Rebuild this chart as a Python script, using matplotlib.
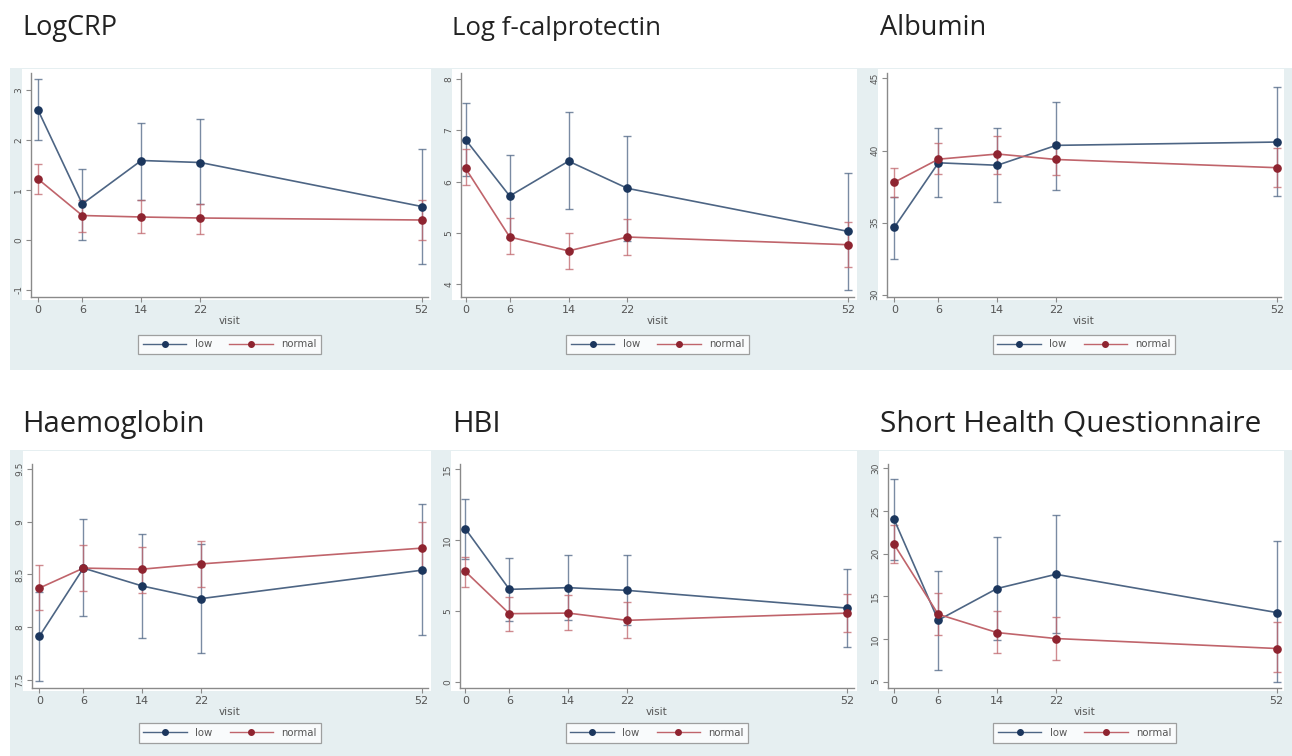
import matplotlib
matplotlib.use("Agg")
import matplotlib.pyplot as plt
from matplotlib.patches import Rectangle
from matplotlib.lines import Line2D

# ---------------- data ----------------
visits = [0, 6, 14, 22, 52]
visit_labels = ["0", "6", "14", "22", "52"]
series_names = ["low", "normal"]

titles = ["LogCRP", "Log f-calprotectin", "Albumin",
          "Haemoglobin", "HBI", "Short Health Questionnaire"]

crp_low = [2.60, 0.72, 1.59, 1.55, 0.67]
crp_low_lo = [2.00, 0.00, 0.80, 0.72, -0.47]
crp_low_hi = [3.22, 1.42, 2.35, 2.42, 1.82]
crp_norm = [1.22, 0.49, 0.46, 0.44, 0.40]
crp_norm_lo = [0.92, 0.17, 0.15, 0.12, 0.00]
crp_norm_hi = [1.52, 0.80, 0.80, 0.72, 0.80]
crp_ticks = [-1, 0, 1, 2, 3]

fcal_low = [6.82, 5.72, 6.40, 5.87, 5.03]
fcal_low_lo = [6.11, 4.91, 5.46, 4.84, 3.89]
fcal_low_hi = [7.54, 6.53, 7.36, 6.90, 6.16]
fcal_norm = [6.26, 4.92, 4.65, 4.92, 4.77]
fcal_norm_lo = [5.93, 4.58, 4.29, 4.57, 4.33]
fcal_norm_hi = [6.63, 5.30, 5.00, 5.28, 5.22]
fcal_ticks = [4, 5, 6, 7, 8]

alb_low = [34.67, 39.15, 38.98, 40.36, 40.59]
alb_low_lo = [32.50, 36.80, 36.45, 37.25, 36.84]
alb_low_hi = [36.80, 41.58, 41.58, 43.36, 44.43]
alb_norm = [37.80, 39.40, 39.76, 39.38, 38.81]
alb_norm_lo = [36.80, 38.40, 38.40, 38.27, 37.48]
alb_norm_hi = [38.80, 40.50, 41.00, 40.50, 40.16]
alb_ticks = [30, 35, 40, 45]

hb_low = [7.91, 8.56, 8.39, 8.27, 8.54]
hb_low_lo = [7.49, 8.10, 7.90, 7.75, 7.92]
hb_low_hi = [8.33, 9.03, 8.88, 8.79, 9.17]
hb_norm = [8.37, 8.56, 8.55, 8.60, 8.75]
hb_norm_lo = [8.16, 8.34, 8.32, 8.38, 8.52]
hb_norm_hi = [8.59, 8.78, 8.76, 8.82, 9.00]
hb_ticks = [7.5, 8, 8.5, 9, 9.5]

hbi_low = [10.82, 6.55, 6.67, 6.48, 5.23]
hbi_low_lo = [8.72, 4.32, 4.40, 4.02, 2.49]
hbi_low_hi = [12.93, 8.78, 8.94, 8.94, 8.00]
hbi_norm = [7.81, 4.84, 4.88, 4.37, 4.88]
hbi_norm_lo = [6.71, 3.61, 3.66, 3.15, 3.54]
hbi_norm_hi = [8.82, 6.00, 6.12, 5.65, 6.24]
hbi_ticks = [0, 5, 10, 15]

shq_low = [24.02, 12.19, 15.90, 17.57, 13.09]
shq_low_lo = [19.25, 6.33, 9.84, 10.65, 5.00]
shq_low_hi = [28.79, 17.96, 21.95, 24.49, 21.44]
shq_norm = [21.09, 12.89, 10.74, 10.04, 8.87]
shq_norm_lo = [18.90, 10.43, 8.35, 7.58, 6.13]
shq_norm_hi = [23.30, 15.38, 13.27, 12.57, 11.99]
shq_ticks = [5, 10, 15, 20, 25, 30]

panels = [
    (crp_low, crp_low_lo, crp_low_hi, crp_norm, crp_norm_lo, crp_norm_hi, crp_ticks),
    (fcal_low, fcal_low_lo, fcal_low_hi, fcal_norm, fcal_norm_lo, fcal_norm_hi, fcal_ticks),
    (alb_low, alb_low_lo, alb_low_hi, alb_norm, alb_norm_lo, alb_norm_hi, alb_ticks),
    (hb_low, hb_low_lo, hb_low_hi, hb_norm, hb_norm_lo, hb_norm_hi, hb_ticks),
    (hbi_low, hbi_low_lo, hbi_low_hi, hbi_norm, hbi_norm_lo, hbi_norm_hi, hbi_ticks),
    (shq_low, shq_low_lo, shq_low_hi, shq_norm, shq_norm_lo, shq_norm_hi, shq_ticks),
]

# ---------------- layout (pixels) ----------------
W, H = 1292, 756
fig = plt.figure(figsize=(W / 100, H / 100), dpi=100)
fig.patch.set_facecolor("white")

def fx(px):
    return px / W

def fy(py):
    return 1 - py / H

# axes pixel boxes: (left, top, right, bottom) and ylim
ax_boxes = [
    (31, 73, 428, 297, (-1.14, 3.34)),
    (461, 73, 854, 297, (3.75, 8.12)),
    (887, 73, 1281, 297, (29.84, 45.38)),
    (32, 464, 428, 688, (7.42, 9.55)),
    (460, 464, 854, 688, (-0.39, 15.37)),
    (888, 464, 1281, 688, (4.24, 30.5)),
]
xlims = [(-0.95, 52.85), (-0.62, 52.8), (-0.99, 52.55),
         (-0.99, 52.85), (-0.72, 52.9), (-0.82, 52.6)]

region_boxes = [(10, 68, 428, 370), (428, 68, 858, 370), (858, 68, 1292, 370),
                (10, 450, 428, 756), (428, 450, 858, 756), (858, 450, 1292, 756)]
title_pos = [(22, 35), (452, 35), (880, 35), (22, 432), (452, 432), (880, 432)]
title_sizes = [19.5, 18.5, 19.5, 21.0, 21.0, 21.5]

bg = "#e6eff1"
blue_m = "#1b365d"
blue_l = "#4d6584"
red_m = "#8e2430"
red_l = "#c0646b"
axis_c = "#8a8a8a"
text_c = "#555555"

for i, (vals, box, reg, tp, title, xl, ts) in enumerate(
        zip(panels, ax_boxes, region_boxes, title_pos, titles, xlims, title_sizes)):
    lo_m, lo_lo, lo_hi, no_m, no_lo, no_hi, yt = vals
    l, t, r, b, yl = box
    # graph region
    fig.patches.append(Rectangle((fx(reg[0]), fy(reg[3])), fx(reg[2] - reg[0]),
                                 (reg[3] - reg[1]) / H, transform=fig.transFigure,
                                 facecolor=bg, edgecolor="none", zorder=-2))
    # plot region (white)
    fig.patches.append(Rectangle((fx(l - 9), fy(b + 3)), fx(r - l + 12),
                                 (b + 3 - reg[1] - 1) / H, transform=fig.transFigure,
                                 facecolor="white", edgecolor="none", zorder=-1))
    fig.text(fx(tp[0]), fy(tp[1]), title, fontsize=ts, family="Open Sans",
             color="#222222", ha="left", va="baseline")

    ax = fig.add_axes([fx(l), fy(b), fx(r - l), (b - t) / H])
    ax.set_zorder(5)
    ax.set_facecolor("none")
    ax.set_xlim(*xl)
    ax.set_ylim(*yl)
    for s in ["top", "right"]:
        ax.spines[s].set_visible(False)
    for s in ["left", "bottom"]:
        ax.spines[s].set_color(axis_c)
        ax.spines[s].set_linewidth(1.0)
    ax.set_xticks(visits)
    ax.set_xticklabels(visit_labels, fontsize=8, color=text_c)
    ax.set_yticks(yt)
    ax.set_yticklabels([("%g" % v) for v in yt], fontsize=6.5, color=text_c,
                       rotation=90, va="center")
    ax.tick_params(axis="both", direction="out", length=3.5, width=0.8,
                   color=axis_c, pad=2)
    ax.set_xlabel("visit", fontsize=7.5, color=text_c, labelpad=1)

    low_err = [[m - a for m, a in zip(lo_m, lo_lo)], [h - m for m, h in zip(lo_m, lo_hi)]]
    nor_err = [[m - a for m, a in zip(no_m, no_lo)], [h - m for m, h in zip(no_m, no_hi)]]
    ax.errorbar(visits, lo_m, yerr=low_err, fmt="none", ecolor=blue_l, alpha=0.75,
                elinewidth=1.0, capsize=3, capthick=1.0, zorder=2, clip_on=False)
    ax.errorbar(visits, no_m, yerr=nor_err, fmt="none", ecolor=red_l, alpha=0.75,
                elinewidth=1.0, capsize=3, capthick=1.0, zorder=2, clip_on=False)
    ax.plot(visits, lo_m, color=blue_l, lw=1.2, zorder=3)
    ax.plot(visits, no_m, color=red_l, lw=1.2, zorder=3)
    ax.plot(visits, lo_m, "o", color=blue_m, ms=5.2, zorder=4, clip_on=False)
    ax.plot(visits, no_m, "o", color=red_m, ms=5.2, zorder=4, clip_on=False)

    handles = [Line2D([], [], color=blue_l, lw=1.0, marker="o", ms=4,
                      markerfacecolor=blue_m, markeredgecolor=blue_m),
               Line2D([], [], color=red_l, lw=1.0, marker="o", ms=4,
                      markerfacecolor=red_m, markeredgecolor=red_m)]
    leg_y = -(344.5 - b) / (b - t) if i < 3 else -(733 - b) / (b - t)
    leg = ax.legend(handles, series_names, loc="center", bbox_to_anchor=(0.5, leg_y),
                    ncol=2, fontsize=7.3, numpoints=1, handlelength=4.3,
                    handletextpad=0.8, columnspacing=1.7, frameon=True,
                    fancybox=False, borderpad=0.45, labelcolor=text_c)
    leg.get_frame().set_edgecolor("#8a8a8a")
    leg.get_frame().set_linewidth(0.9)
    leg.get_frame().set_facecolor("white")

fig.savefig("out.png", dpi=100, facecolor="white")
